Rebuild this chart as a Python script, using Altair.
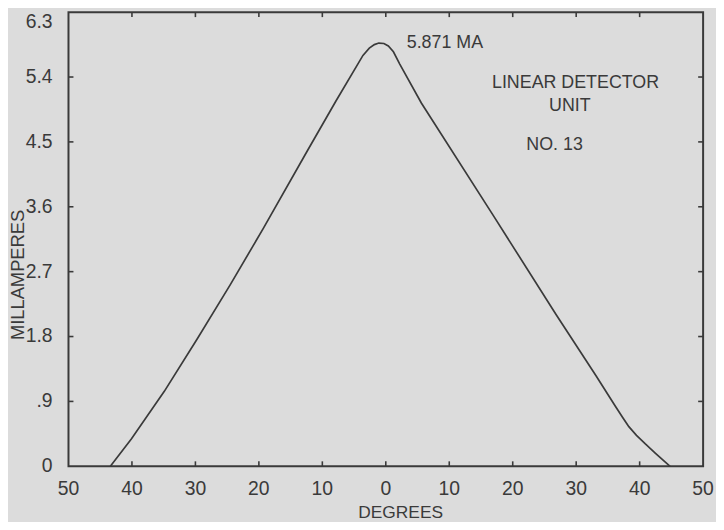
import altair as alt
import pandas as pd

# Curve: angle in degrees (left side negative), current in mA
degrees = [-43.4, -40.1, -34.9, -29.7, -24.5, -19.3, -12.4, -7.9, -3.6, -2.6, -1.8, -1.1,
           -0.3, 0.4, 1.2, 2.2, 5.6, 17.0, 26.8, 33.1, 36.2, 37.3, 38.3, 39.5, 40.9, 42.5, 44.8]
milliamps = [0.0, 0.38, 1.04, 1.77, 2.52, 3.30, 4.37, 5.06, 5.70, 5.80, 5.85, 5.871,
             5.865, 5.83, 5.75, 5.58, 5.04, 3.47, 2.11, 1.26, 0.83, 0.68, 0.55, 0.43, 0.31, 0.18, 0.0]

x_tick_values = [-50, -40, -30, -20, -10, 0, 10, 20, 30, 40, 50]
x_tick_labels = ["50", "40", "30", "20", "10", "0", "10", "20", "30", "40", "50"]
y_tick_values = [0, 0.9, 1.8, 2.7, 3.6, 4.5, 5.4]
y_tick_labels = ["0", ".9", "1.8", "2.7", "3.6", "4.5", "5.4"]
y_top_value = [6.3]
y_top_label = ["6.3"]
inner_x_ticks = [-40, -30, -20, -10, 0, 10, 20, 30, 40]
inner_y_ticks = [0.9, 1.8, 2.7, 3.6, 4.5, 5.4]

x_title = "DEGREES"
y_title = "MILLAMPERES"
peak_label = "5.871 MA"
unit_lines = ["LINEAR DETECTOR", "UNIT", "NO. 13"]

W, H = 640, 458
X_MIN, X_MAX = -50, 50
Y_MIN, Y_MAX = 0, 6.3
INK = "#3a3a3a"
FONT = "Liberation Sans"
TICK_PX = 5
TX = TICK_PX * (X_MAX - X_MIN) / W   # tick length in degrees
TY = TICK_PX * (Y_MAX - Y_MIN) / H   # tick length in mA

curve = pd.DataFrame({"deg": degrees, "ma": milliamps})

# inward tick marks on all four sides, built from the tick lists
seg_rows = []
for d in inner_x_ticks:
    seg_rows.append({"x": d, "x2": d, "y": Y_MIN, "y2": Y_MIN + TY})
    seg_rows.append({"x": d, "x2": d, "y": Y_MAX - TY, "y2": Y_MAX})
for m in inner_y_ticks:
    seg_rows.append({"x": X_MIN, "x2": X_MIN + TX, "y": m, "y2": m})
    seg_rows.append({"x": X_MAX - TX, "x2": X_MAX, "y": m, "y2": m})
segs = pd.DataFrame(seg_rows)

xl = pd.DataFrame({"deg": x_tick_values, "label": x_tick_labels})
yl = pd.DataFrame({"ma": y_tick_values, "label": y_tick_labels})
yl_top = pd.DataFrame({"ma": y_top_value, "label": y_top_label})

xscale = alt.Scale(domain=[X_MIN, X_MAX], nice=False, zero=False)
yscale = alt.Scale(domain=[Y_MIN, Y_MAX], nice=False)


def X(field):
    return alt.X(field, type="quantitative", scale=xscale, axis=None)


def Y(field):
    return alt.Y(field, type="quantitative", scale=yscale, axis=None)


line = alt.Chart(curve).mark_line(color=INK, strokeWidth=1.7).encode(
    x=X("deg"), y=Y("ma"))

ticks = alt.Chart(segs).mark_rule(color=INK, strokeWidth=1.6).encode(
    x=X("x"), x2="x2", y=Y("y"), y2="y2")

lab = dict(font=FONT, fontSize=19.5, color=INK)
x_labels = alt.Chart(xl).mark_text(align="center", baseline="middle", **lab).encode(
    x=X("deg"), y=alt.value(H + 23), text="label:N")
y_labels = alt.Chart(yl).mark_text(align="right", baseline="middle", **lab).encode(
    y=Y("ma"), x=alt.value(-16), text="label:N")
y_label_top = alt.Chart(yl_top).mark_text(align="right", baseline="top", dy=1, **lab).encode(
    y=Y("ma"), x=alt.value(-16), text="label:N")

ttl = dict(font=FONT, color=INK)
x_title_mark = alt.Chart().mark_text(align="center", baseline="middle", fontSize=17.5, **ttl).encode(
    x=alt.value(335), y=alt.value(H + 47), text=alt.value(x_title))
y_title_mark = alt.Chart().mark_text(align="center", baseline="middle", angle=270, fontSize=18.5, **ttl).encode(
    x=alt.value(-51), y=alt.value(265), text=alt.value(y_title))

txt = dict(font=FONT, fontSize=18, color=INK)


def note(text, x, y, align):
    return alt.Chart().mark_text(align=align, baseline="middle", **txt).encode(
        x=alt.XDatum(x, scale=xscale, axis=None),
        y=alt.YDatum(y, scale=yscale, axis=None),
        text=alt.value(text),
    )


peak_text = note(peak_label, 3.3, 5.87, "left")
line1 = note(unit_lines[0], 29.9, 5.315, "center")
line2 = note(unit_lines[1], 29.0, 5.0, "center")
line3 = note(unit_lines[2], 26.6, 4.45, "center")

chart = alt.layer(
    line, ticks,
    x_labels, y_labels, y_label_top, x_title_mark, y_title_mark,
    peak_text, line1, line2, line3,
).properties(
    width=W, height=H,
    autosize=alt.AutoSizeParams(type="none"),
    padding={"left": 61, "top": 2, "right": 13, "bottom": 54},
    background="#dcdcdc",
).configure_view(
    stroke=INK, strokeWidth=2,
)

chart.save("out.html", embed_options={"renderer": "svg", "actions": False})
